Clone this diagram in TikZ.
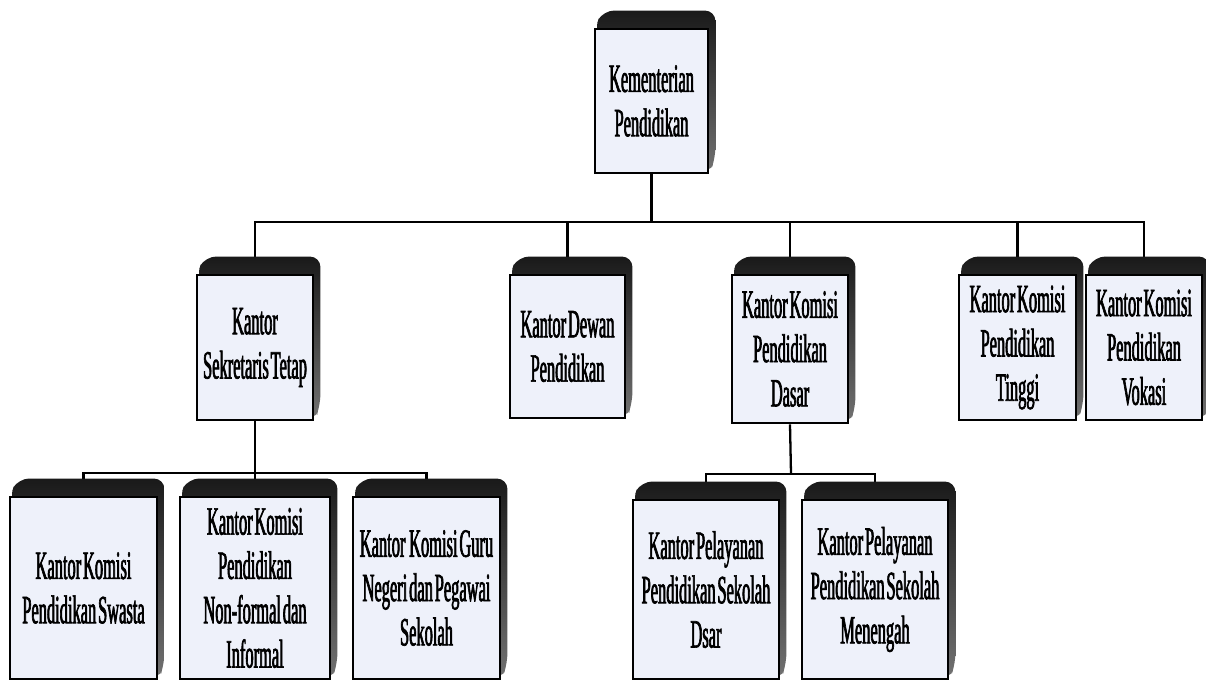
\documentclass[tikz,border=0pt]{standalone}
\usepackage{fontspec}
\setmainfont{Liberation Serif}[FakeStretch=0.41, FakeBold=1.6, WordSpace=0.45]
\usetikzlibrary{backgrounds,calc}
\definecolor{boxfill}{RGB}{238,241,250}
\tikzset{
  orgbox/.style={draw=black, line width=0.8pt, fill=boxfill, inner sep=0pt,
    align=center, font=\fontsize{11.4}{12.6}\selectfont},
  link/.style={draw=black, line width=0.65pt},
  boxshade/.style={rounded corners=3pt, top color=black!90, bottom color=black!55}
}
\begin{document}
\begin{tikzpicture}[x=0.01cm, y=-0.01cm]
        \useasboundingbox (0,0) rectangle (1206,683);
        % Top level
        \node[orgbox, minimum width=1.13cm, minimum height=1.44cm] (kem) at (651.5,101) {Kementerian\\Pendidikan};
        % Second level
        \node[orgbox, minimum width=1.16cm, minimum height=1.45cm] (sek) at (255,347.5) {Kantor\\Sekretaris Tetap};
        \node[orgbox, minimum width=1.15cm, minimum height=1.43cm] (dew) at (567.5,346.5) {Kantor Dewan\\Pendidikan};
        \node[orgbox, minimum width=1.16cm, minimum height=1.48cm] (das) at (790,349) {Kantor Komisi\\Pendidikan\\Dasar};
        \node[orgbox, minimum width=1.17cm, minimum height=1.45cm] (tin) at (1017.5,347.5) {Kantor Komisi\\Pendidikan\\Tinggi};
        \node[orgbox, minimum width=1.16cm, minimum height=1.45cm] (vok) at (1144,347.5) {Kantor Komisi\\Pendidikan\\Vokasi};
        % Third level
        \node[orgbox, minimum width=1.47cm, minimum height=1.82cm] (swa) at (83.5,588) {Kantor Komisi\\Pendidikan Swasta};
        \node[orgbox, minimum width=1.50cm, minimum height=1.82cm] (non) at (255,588) {Kantor Komisi\\Pendidikan\\Non-formal dan\\Informal};
        \node[orgbox, minimum width=1.47cm, minimum height=1.82cm] (gur) at (426.5,588) {Kantor\ \ Komisi Guru\\Negeri dan Pegawai\\Sekolah};
        \node[orgbox, minimum width=1.46cm, minimum height=1.79cm] (sdr) at (706,589.5) {Kantor Pelayanan\\Pendidikan Sekolah\\Dsar};
        \node[orgbox, minimum width=1.46cm, minimum height=1.79cm] (men) at (875,589.5) {Kantor Pelayanan\\Pendidikan Sekolah\\Menengah};
        % Bus points
        \coordinate (bus1) at (651.5,222);
        \coordinate (bus2) at (255,473);
        \coordinate (bus3) at (791,474);
        \begin{scope}[on background layer]
            % Connectors
            \draw[link] (kem.south) -- (bus1);
            \draw[link] (sek.north) |- (bus1);
            \draw[link] (dew.north) |- (bus1);
            \draw[link] (das.north) |- (bus1);
            \draw[link] (tin.north) |- (bus1);
            \draw[link] (vok.north) |- (bus1);
            \draw[link] (sek.south) -- (non.north);
            \draw[link] (swa.north) |- (bus2);
            \draw[link] (gur.north) |- (bus2);
            \draw[link] (das.south) -- (bus3);
            \draw[link] (sdr.north) |- (bus3);
            \draw[link] (men.north) |- (bus3);
            % Shadows
            \foreach \n in {kem,sek,dew,das,tin,vok,swa,non,gur,sdr,men}
                \path[boxshade] (\n.north west) -- ([shift={(10,-17)}]\n.north west)
                    -- ([shift={(6,-17)}]\n.north east) -- ([shift={(6,-17)}]\n.south east)
                    -- (\n.south east) -- cycle;
        \end{scope}
    \end{tikzpicture}
\end{document}
